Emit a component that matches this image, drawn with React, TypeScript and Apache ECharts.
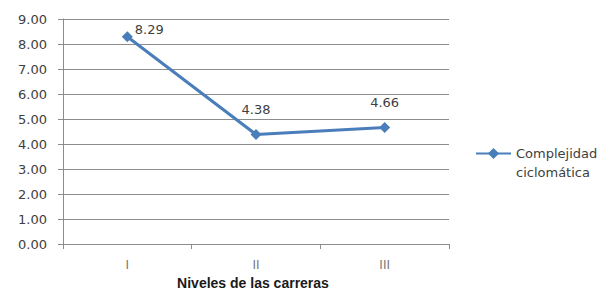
import React, { useEffect, useRef } from "react";
import * as echarts from "echarts";

const categories = ["I", "II", "III"];
const values = [8.29, 4.38, 4.66];
const seriesName = "Complejidad ciclomática";
const legendLines = ["", "Complejidad", "ciclomática"];
const axisName = "Niveles de las carreras";

export default function App() {
  const ref = useRef<HTMLDivElement>(null);
  useEffect(() => {
    document.body.style.margin = "0";
    const chart = echarts.init(ref.current!, null, { renderer: "svg" });
    const font = "DejaVu Sans";
    chart.setOption({
      animation: false,
      backgroundColor: "#ffffff",
      grid: { left: 63, right: 161, top: 19, bottom: 47, outerBoundsMode: "none", containLabel: false },
      legend: {
        orient: "vertical",
        left: 475,
        top: 125,
        padding: 0,
        itemWidth: 35,
        itemHeight: 14,
        formatter: () => legendLines.join("\n"),
        textStyle: {
          fontFamily: font,
          fontSize: 13,
          color: "#404040",
          lineHeight: 19,
        },
        data: [seriesName],
      },
      xAxis: {
        type: "category",
        data: categories,
        boundaryGap: true,
        name: axisName,
        nameLocation: "middle",
        nameGap: 29,
        nameTextStyle: {
          fontFamily: "Liberation Sans",
          fontWeight: "bold",
          fontSize: 14,
          color: "#1a1a1a",
          padding: [0, 6, 0, 0],
        },
        axisLine: { lineStyle: { color: "#8c8c8c", width: 1 } },
        axisTick: { show: true, length: 5, alignWithLabel: false, lineStyle: { color: "#8c8c8c" } },
        axisLabel: { margin: 15, fontFamily: font, fontSize: 12, color: "#777777" },
        splitLine: { show: false },
      },
      yAxis: {
        type: "value",
        min: 0,
        max: 9,
        interval: 1,
        axisLine: { show: true, lineStyle: { color: "#8c8c8c", width: 1 } },
        axisTick: { show: true, length: 5, lineStyle: { color: "#8c8c8c" } },
        axisLabel: {
          margin: 16,
          fontFamily: font,
          fontSize: 13,
          color: "#404040",
          formatter: (v: number) => v.toFixed(2),
        },
        splitLine: { show: true, lineStyle: { color: "#8c8c8c", width: 1 } },
      },
      series: [
        {
          name: seriesName,
          type: "line",
          data: values.map((v, i) =>
            i === 0
              ? { value: v, label: { position: "right", offset: [-11, -7] } }
              : { value: v }
          ),
          symbol: "diamond",
          symbolSize: 11,
          lineStyle: { color: "#4a7ebb", width: 3 },
          itemStyle: { color: "#4a7ebb" },
          label: {
            show: true,
            position: "top",
            distance: 13,
            fontFamily: font,
            fontSize: 13,
            color: "#404040",
            formatter: (p: any) => Number(p.value).toFixed(2),
          },
        },
      ],
    });
    return () => chart.dispose();
  }, []);
  return (
    <div
      ref={ref}
      style={{ position: "fixed", left: 0, top: 0, width: 610, height: 291 }}
    />
  );
}
